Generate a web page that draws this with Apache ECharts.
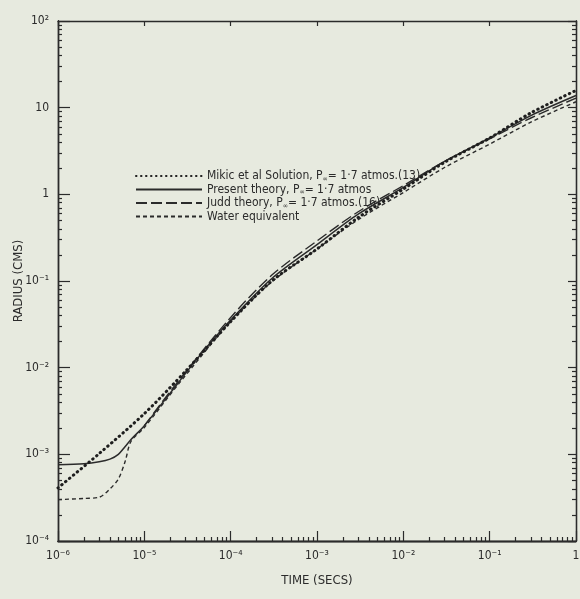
<!DOCTYPE html>
<html>
<head>
<meta charset="utf-8">
<script src="https://cdn.jsdelivr.net/npm/echarts@6/dist/echarts.min.js"></script>
<style>
  html, body { margin: 0; padding: 0; background: #e7eadf; }
  #chart { width: 580px; height: 599px; }
</style>
</head>
<body>
<div id="chart"></div>
<script>
// (time in secs, radius in cms)
const mikicTime = [1e-6, 3e-6, 1e-5, 3e-5, 1e-4, 3e-4, 1e-3, 3e-3, 1e-2, 3e-2, 0.1, 0.3, 1];
const mikicRadius = [4.1e-4, 1.02e-3, 2.95e-3, 9.1e-3, 0.034, 0.10, 0.234, 0.54, 1.15, 2.34, 4.47, 8.7, 15.8];

const presentTime = [1e-6, 2e-6, 3e-6, 4e-6, 5e-6, 6e-6, 7e-6, 1e-5, 1.5e-5, 2.5e-5, 4e-5, 6e-5, 1e-4, 3e-4, 1e-3, 3e-3, 1e-2, 3e-2, 0.1, 0.3, 1];
const presentRadius = [7.6e-4, 7.8e-4, 8.2e-4, 8.8e-4, 1.0e-3, 1.23e-3, 1.48e-3, 2.14e-3, 3.55e-3, 6.8e-3, 0.0123, 0.020, 0.0355, 0.107, 0.263, 0.59, 1.20, 2.4, 4.47, 8.1, 13.8];

const juddTime = [1e-5, 2.5e-5, 1e-4, 3e-4, 1e-3, 3e-3, 1e-2, 3e-2, 0.1, 0.3, 1];
const juddRadius = [2.14e-3, 7.1e-3, 0.038, 0.117, 0.29, 0.63, 1.26, 2.4, 4.37, 7.6, 12.9];

const waterTime = [1e-6, 2e-6, 3e-6, 4e-6, 5e-6, 6e-6, 7e-6, 1e-5, 2.5e-5, 1e-4, 3e-4, 1e-3, 3e-3, 1e-2, 3e-2, 0.1, 0.3, 1];
const waterRadius = [3.0e-4, 3.1e-4, 3.2e-4, 4.0e-4, 5.2e-4, 8.3e-4, 1.41e-3, 2.04e-3, 6.5e-3, 0.034, 0.098, 0.234, 0.51, 1.05, 2.04, 3.8, 6.8, 11.7];

const timeTicks = [1e-6, 1e-5, 1e-4, 1e-3, 1e-2, 1e-1, 1];
const timeLabels = ['10⁻⁶', '10⁻⁵', '10⁻⁴', '10⁻³', '10⁻²', '10⁻¹', '1'];
const radiusTicks = [1e-4, 1e-3, 1e-2, 1e-1, 1, 10, 100];
const radiusLabels = ['10⁻⁴', '10⁻³', '10⁻²', '10⁻¹', '1', '10', '10²'];

const legendNames = {
    'Mikic': 'Mikic et al Solution, P{s|∞}= 1·7 atmos.(13)',
    'Present': 'Present theory, P{s|∞}= 1·7 atmos',
    'Judd': 'Judd theory, P{s|∞}= 1·7 atmos.(16)',
    'Water': 'Water equivalent'
};

const ink = '#2b2b2b';
const font = 'DejaVu Sans Condensed, DejaVu Sans, sans-serif';
const gridBox = { left: 58, right: 4, top: 21, bottom: 58, containLabel: false, outerBoundsMode: 'none' };

// decade exponents, and the 2..9 ticks between them (log10 space, for the tick-only axes)
function decades(ticks) {
    return ticks.map(t => Math.round(Math.log10(t)));
}
function minorTicks(ticks) {
    let out = [];
    let d = decades(ticks);
    for (let i = 0; i < d.length - 1; i++) {
        for (let m = 2; m <= 9; m++) out.push(d[i] + Math.log10(m));
    }
    return out;
}

function pairs(xs, ys) {
    return xs.map((x, i) => [x, ys[i]]);
}

function labelFor(ticks, labels) {
    return function (v) {
        let i = ticks.findIndex(t => Math.abs(Math.log10(t) - Math.log10(v)) < 1e-6);
        return i >= 0 ? labels[i] : '';
    };
}

// log axis carrying the data and the labels
function dataAxis(ticks, labels, position) {
    return {
        type: 'log',
        logBase: 10,
        gridIndex: 0,
        position: position,
        min: ticks[0],
        max: ticks[ticks.length - 1],
        axisLine: { show: true, onZero: false, lineStyle: { color: ink, width: 1.3 } },
        axisTick: { show: false },
        axisLabel: { color: ink, fontFamily: font, fontSize: 12, margin: 9, formatter: labelFor(ticks, labels) },
        splitLine: { show: false }
    };
}

// tick-only axis, same box as the data grid
function tickAxis(ticks, gridIndex, position, len, custom) {
    let d = decades(ticks);
    let ax = {
        type: 'value',
        gridIndex: gridIndex,
        position: position,
        min: d[0],
        max: d[d.length - 1],
        interval: 1,
        axisLine: { show: true, onZero: false, lineStyle: { color: ink, width: 1.3 } },
        axisTick: { show: true, inside: true, length: len, lineStyle: { color: ink, width: 1.2 } },
        axisLabel: { show: false },
        splitLine: { show: false }
    };
    if (custom) ax.axisTick.customValues = custom;
    return ax;
}

const chart = echarts.init(document.getElementById('chart'), null, { renderer: 'canvas' });

const xMain = Object.assign(dataAxis(timeTicks, timeLabels, 'bottom'), {
    name: 'TIME (SECS)',
    nameLocation: 'middle',
    nameGap: 33,
    nameTextStyle: { color: ink, fontFamily: font, fontSize: 13 }
});
const yMain = Object.assign(dataAxis(radiusTicks, radiusLabels, 'left'), {
    name: 'RADIUS (CMS)',
    nameLocation: 'middle',
    nameGap: 33,
    nameMoveOverlap: false,
    nameRotate: 90,
    nameTextStyle: { color: ink, fontFamily: font, fontSize: 13 }
});

chart.setOption({
    backgroundColor: '#e7eadf',
    animation: false,
    grid: [
        Object.assign({}, gridBox),
        Object.assign({}, gridBox),
        Object.assign({}, gridBox)
    ],
    legend: {
        orient: 'vertical',
        left: 130,
        top: 165,
        itemWidth: 66,
        itemHeight: 8,
        itemGap: 1,
        data: ['Mikic', 'Present', 'Judd', 'Water'],
        itemStyle: { opacity: 0 },
        formatter: function (name) { return legendNames[name]; },
        textStyle: {
            color: ink,
            fontFamily: font,
            fontSize: 12,
            rich: { s: { fontSize: 7, verticalAlign: 'bottom', padding: [6, 0, 0, 0], color: ink } }
        }
    },
    xAxis: [
        xMain,
        tickAxis(timeTicks, 1, 'bottom', 10),
        tickAxis(timeTicks, 1, 'top', 5),
        tickAxis(timeTicks, 2, 'bottom', 4, minorTicks(timeTicks))
    ],
    yAxis: [
        yMain,
        tickAxis(radiusTicks, 1, 'left', 12),
        tickAxis(radiusTicks, 1, 'right', 8),
        tickAxis(radiusTicks, 2, 'left', 4, minorTicks(radiusTicks)),
        tickAxis(radiusTicks, 2, 'right', 4, minorTicks(radiusTicks))
    ],
    series: [
        {
            name: 'Water', type: 'line', symbol: 'none', smooth: 0.3,
            data: pairs(waterTime, waterRadius),
            lineStyle: { color: ink, width: 1.4, type: [4, 3] },
            itemStyle: { color: ink }
        },
        {
            name: 'Judd', type: 'line', symbol: 'none', smooth: 0.3,
            data: pairs(juddTime, juddRadius),
            lineStyle: { color: ink, width: 1.4, type: [11, 4] },
            itemStyle: { color: ink }
        },
        {
            name: 'Present', type: 'line', symbol: 'none', smooth: 0.3,
            data: pairs(presentTime, presentRadius),
            lineStyle: { color: ink, width: 1.5 },
            itemStyle: { color: ink }
        },
        {
            name: 'Mikic', type: 'line', symbol: 'none', smooth: 0.3, z: 5,
            data: pairs(mikicTime, mikicRadius),
            lineStyle: { color: '#1e1e1e', width: 3, type: [0.5, 4.5], cap: 'round' },
            itemStyle: { color: '#1e1e1e' }
        }
    ]
});
</script>
</body>
</html>
